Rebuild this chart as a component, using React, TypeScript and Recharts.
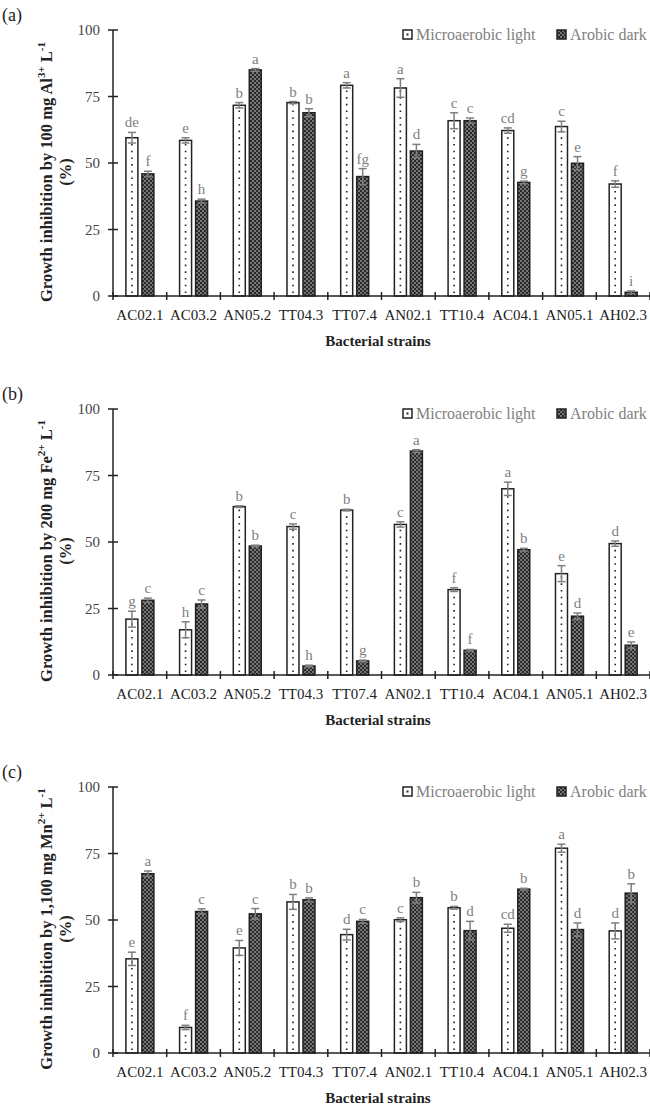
import { BarChart, Bar, XAxis, YAxis, ErrorBar, LabelList } from 'recharts';

const strains = ['AC02.1', 'AC03.2', 'AN05.2', 'TT04.3', 'TT07.4', 'AN02.1', 'TT10.4', 'AC04.1', 'AN05.1', 'AH02.3'];
const seriesNames = ['Microaerobic light', 'Arobic dark'];
const yTicks = [0, 25, 50, 75, 100];

// (a) Al3+
const alLight = [59.5, 58.5, 71.7, 72.7, 79.2, 78.2, 65.9, 62.2, 63.7, 42.1];
const alLightErr = [2, 1, 1, 0.4, 1, 3.5, 3, 1, 2, 1.2];
const alDark = [45.9, 35.7, 85, 68.9, 44.9, 54.5, 65.9, 42.7, 49.9, 1.4];
const alDarkErr = [1, 0.7, 0.5, 1.5, 3, 2.5, 1, 0.5, 2.5, 0.5];
const alLightSig = ['de', 'e', 'b', 'b', 'a', 'a', 'c', 'cd', 'c', 'f'];
const alDarkSig = ['f', 'h', 'a', 'b', 'fg', 'd', 'c', 'g', 'e', 'i'];

// (b) Fe2+
const feLight = [21, 17, 63.3, 55.8, 62, 56.6, 32.1, 70, 38.1, 49.4];
const feLightErr = [3, 3, 0.3, 1, 0.3, 1, 0.7, 2.5, 3, 1];
const feDark = [28.1, 26.7, 48.5, 3.4, 5.3, 84.2, 9.3, 47.1, 22.1, 11.2];
const feDarkErr = [0.8, 1.5, 0.3, 0.3, 0.3, 0.5, 0.3, 0.5, 1.2, 1.2];
const feLightSig = ['g', 'h', 'b', 'c', 'b', 'c', 'f', 'a', 'e', 'd'];
const feDarkSig = ['c', 'c', 'b', 'h', 'g', 'a', 'f', 'b', 'd', 'e'];

// (c) Mn2+
const mnLight = [35.4, 9.6, 39.5, 56.8, 44.5, 50.1, 54.6, 46.9, 77, 45.9];
const mnLightErr = [2.5, 0.8, 2.8, 2.8, 2, 0.7, 0.5, 1.5, 1.5, 3];
const mnDark = [67.4, 53.2, 52.3, 57.6, 49.5, 58.4, 46, 61.6, 46.4, 60.1];
const mnDarkErr = [1, 1, 2, 0.7, 0.7, 2, 3.5, 0.3, 2.5, 3.5];
const mnLightSig = ['e', 'f', 'e', 'b', 'd', 'c', 'b', 'cd', 'a', 'd'];
const mnDarkSig = ['a', 'c', 'c', 'b', 'c', 'b', 'd', 'b', 'd', 'b'];

const FONT = '"Liberation Serif", "Times New Roman", serif';
const INK = '#222';
const GREY = '#7f7f7f';

const makeRows = (light, lightErr, dark, darkErr) =>
  strains.map((s, i) => ({ strain: s, light: light[i], lightErr: lightErr[i], dark: dark[i], darkErr: darkErr[i] }));

const panels = [
  { tag: '(a)', dose: '100', ion: 'Al', charge: '3+', rows: makeRows(alLight, alLightErr, alDark, alDarkErr), lightVals: alLight, darkVals: alDark, lightErr: alLightErr, darkErr: alDarkErr, lightSig: alLightSig, darkSig: alDarkSig },
  { tag: '(b)', dose: '200', ion: 'Fe', charge: '2+', rows: makeRows(feLight, feLightErr, feDark, feDarkErr), lightVals: feLight, darkVals: feDark, lightErr: feLightErr, darkErr: feDarkErr, lightSig: feLightSig, darkSig: feDarkSig },
  { tag: '(c)', dose: '1,100', ion: 'Mn', charge: '2+', rows: makeRows(mnLight, mnLightErr, mnDark, mnDarkErr), lightVals: mnLight, darkVals: mnDark, lightErr: mnLightErr, darkErr: mnDarkErr, lightSig: mnLightSig, darkSig: mnDarkSig },
];

const LightBar = (props: any) => {
  const { x, y, width, height } = props;
  if (!height) return null;
  const cx = x + width / 2;
  return (
    <g>
      <rect x={x} y={y} width={width} height={height} fill="#fff" stroke={INK} strokeWidth={1.5} />
      <line x1={cx} x2={cx} y1={y + height - 3} y2={y + 2} stroke={INK} strokeWidth={1.6} strokeDasharray="1.6 5.1" />
    </g>
  );
};

const DarkBar = (props: any) => {
  const { x, y, width, height } = props;
  if (!height) return null;
  return <rect x={x} y={y} width={width} height={height} fill="url(#darkHatch)" stroke={INK} strokeWidth={1.5} />;
};

// significance letters sit just above the error bar
const sigLabel = (vals: number[], errs: number[], sig: string[]) => (props: any) => {
  const vb = props.viewBox || props;
  const i = props.index;
  if (vb == null || i == null) return null;
  const pxPerUnit = vb.height / vals[i];
  const top = vb.y - errs[i] * pxPerUnit;
  return (
    <text x={vb.x + vb.width / 2} y={top - 5} textAnchor="middle" fill={GREY} fontSize={15} fontFamily={FONT}>
      {sig[i]}
    </text>
  );
};

const YTick = (props: any) => {
  const { x, y, payload } = props;
  return (
    <g>
      <line x1={x - 5} x2={x + 5} y1={y} y2={y} stroke={INK} strokeWidth={1.5} />
      <text x={x - 13} y={y + 5} textAnchor="end" fontSize={15} fill="#444" fontFamily={FONT}>
        {payload.value}
      </text>
    </g>
  );
};

const XTick = (props: any) => {
  const { x, y, payload, index } = props;
  const half = payload.offset || 26.85;
  return (
    <g>
      <line x1={x - half} x2={x - half} y1={y - 4} y2={y + 4} stroke={INK} strokeWidth={1.5} />
      {index === strains.length - 1 && (
        <line x1={x + half} x2={x + half} y1={y - 4} y2={y + 4} stroke={INK} strokeWidth={1.5} />
      )}
      <text x={x} y={y + 24} textAnchor="middle" fontSize={15} fill={INK} fontFamily={FONT}>
        {payload.value}
      </text>
    </g>
  );
};

function Panel({ p, top }: any) {
  return (
    <div style={{ position: 'absolute', left: 0, top, width: 650, height: 378 }}>
      <BarChart
        width={650}
        height={378}
        data={p.rows}
        margin={{ top: 30, right: 0, left: 0, bottom: 42 }}
        barCategoryGap="24%"
        barGap={4}
      >
        <XAxis
          dataKey="strain"
          height={40}
          interval={0}
          tickSize={0}
          tickMargin={0}
          tickLine={false}
          axisLine={{ stroke: INK, strokeWidth: 1.5 }}
          tick={<XTick />}
        />
        <YAxis
          type="number"
          domain={[0, 100]}
          ticks={yTicks}
          width={113}
          tickSize={0}
          tickMargin={0}
          tickLine={false}
          axisLine={{ stroke: INK, strokeWidth: 1.5 }}
          tick={<YTick />}
        />
        <Bar dataKey="light" name={seriesNames[0]} shape={<LightBar />} isAnimationActive={false}>
          <ErrorBar dataKey="lightErr" width={4} stroke={GREY} strokeWidth={1.5} direction="y" isAnimationActive={false} />
          <LabelList dataKey="light" content={sigLabel(p.lightVals, p.lightErr, p.lightSig)} />
        </Bar>
        <Bar dataKey="dark" name={seriesNames[1]} shape={<DarkBar />} isAnimationActive={false}>
          <ErrorBar dataKey="darkErr" width={4} stroke={GREY} strokeWidth={1.5} direction="y" isAnimationActive={false} />
          <LabelList dataKey="dark" content={sigLabel(p.darkVals, p.darkErr, p.darkSig)} />
        </Bar>
      </BarChart>
      <svg width={650} height={378} style={{ position: 'absolute', left: 0, top: 0, pointerEvents: 'none' }} fontFamily={FONT}>
        <text x={2} y={21} fontSize={18} fill={INK}>{p.tag}</text>
        <g transform="translate(52,172) rotate(-90)">
          <text x={0} y={0} textAnchor="middle" fontSize={16.5} fontWeight="bold" fill={INK}>
            Growth inhibition by {p.dose} mg {p.ion}
            <tspan dy={-7} fontSize={11}>{p.charge}</tspan>
            <tspan dy={7}> L</tspan>
            <tspan dy={-7} fontSize={11}>-1</tspan>
          </text>
          <text x={0} y={19} textAnchor="middle" fontSize={16.5} fontWeight="bold" fill={INK}>(%)</text>
        </g>
        <text x={378} y={346} textAnchor="middle" fontSize={15} fontWeight="bold" fill={INK}>Bacterial strains</text>
        <rect x={403} y={30} width={9} height={9} fill="#fff" stroke={INK} strokeWidth={1.5} />
        <rect x={406.5} y={33.5} width={2} height={2} fill={INK} />
        <text x={416} y={40} fontSize={16} fill={GREY}>{seriesNames[0]}</text>
        <rect x={557} y={30} width={9} height={9} fill="url(#darkHatch)" stroke={INK} strokeWidth={1.5} />
        <text x={570} y={40} fontSize={16} fill={GREY}>{seriesNames[1]}</text>
      </svg>
    </div>
  );
}

export default function App() {
  return (
    <div style={{ position: 'absolute', left: 0, top: 0, width: 650, height: 1105, background: '#fff' }}>
      <svg width={0} height={0} style={{ position: 'absolute' }}>
        <defs>
          <pattern id="darkHatch" patternUnits="userSpaceOnUse" width={4} height={4}>
            <rect width={4} height={4} fill="#2a2a2a" />
            <circle cx={1} cy={1} r={0.8} fill="#d8d8d8" />
            <circle cx={3} cy={3} r={0.8} fill="#d8d8d8" />
          </pattern>
        </defs>
      </svg>
      {panels.map((p, i) => (
        <Panel key={p.tag} p={p} top={i * 378.5} />
      ))}
    </div>
  );
}
